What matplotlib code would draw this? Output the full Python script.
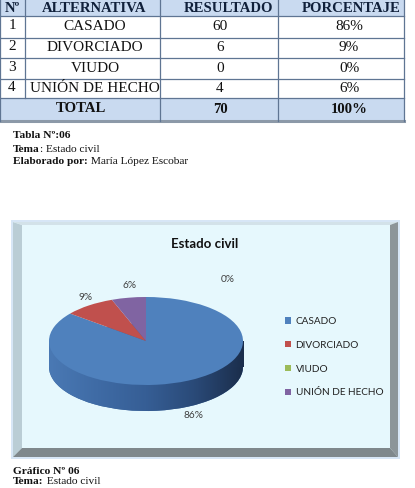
import numpy as np
import matplotlib
matplotlib.use("Agg")
import matplotlib.pyplot as plt
from matplotlib.patches import Rectangle, Polygon, Patch
from matplotlib.colors import LinearSegmentedColormap

# ---------------- data ----------------
categories = ["CASADO", "DIVORCIADO", "VIUDO", "UNIÓN DE HECHO"]
row_numbers = ["1", "2", "3", "4"]
resultado = [60, 6, 0, 4]
total_resultado = sum(resultado)
porcentaje = [round(100 * v / total_resultado) for v in resultado]
total_porcentaje = round(100 * total_resultado / total_resultado)
headers = ["Nº", "ALTERNATIVA", "RESULTADO", "PORCENTAJE"]
chart_title = "Estado civil"

# ---------------- style ----------------
W, H = 415, 488
fig = plt.figure(figsize=(W / 100, H / 100), dpi=100)
fig.patch.set_facecolor("white")
bg = fig.add_axes([0, 0, 1, 1])
bg.set_xlim(0, W)
bg.set_ylim(H, 0)
bg.axis("off")

serif = "Liberation Serif"
sans = "Lato"
pie_colors = ["#4F81BD", "#C0504D", "#9BBB59", "#8064A2"]

# ---------------- table ----------------
col_x = [0, 25, 160, 278, 404]
row_y = [-4, 16, 38, 58, 79, 98, 121]
head_bg = "#C9DAF0"
line_c = "#5F7593"
bg.add_patch(Rectangle((0, row_y[0]), col_x[-1], row_y[1] - row_y[0], color=head_bg, lw=0))
bg.add_patch(Rectangle((0, row_y[5]), col_x[-1], row_y[6] - row_y[5], color=head_bg, lw=0))
for y in row_y[1:6]:
    bg.plot([0, col_x[-1]], [y, y], color=line_c, lw=0.9)
bg.plot([0, col_x[-1]], [row_y[6], row_y[6]], color="#8C99A8", lw=2.2)
for x in col_x:
    ytop = row_y[0]
    ybot = row_y[5] if x == 25 else row_y[6]
    bg.plot([x, x], [ytop, ybot], color=line_c, lw=0.9)

head_cx = [12, 94, 228, 351]
body_cx = [12, 95, 220, 349]
head_cy = 8
for cx, h in zip(head_cx, headers):
    bg.text(cx, head_cy, h, family=serif, weight="bold", fontsize=10.6,
            ha="center", va="center", color="#10203A")
for i in range(len(categories)):
    cy = (row_y[i + 1] + row_y[i + 2]) / 2 - 0.5
    bg.text(body_cx[0], cy - 0.8, row_numbers[i], family=serif, fontsize=11, ha="center", va="center", color="#111")
    bg.text(body_cx[1], cy, categories[i], family=serif, fontsize=11, ha="center", va="center", color="#111")
    bg.text(body_cx[2], cy, str(resultado[i]), family=serif, fontsize=11, ha="center", va="center", color="#111")
    bg.text(body_cx[3], cy, f"{porcentaje[i]}%", family=serif, fontsize=11, ha="center", va="center", color="#111")
tcy = (row_y[5] + row_y[6]) / 2
bg.text(81, tcy - 1, "TOTAL", family=serif, weight="bold", fontsize=10.6, ha="center", va="center", color="#111")
bg.text(body_cx[2], tcy, str(total_resultado), family=serif, weight="bold", fontsize=10.6, ha="center", va="center", color="#111")
bg.text(body_cx[3], tcy, f"{total_porcentaje}%", family=serif, weight="bold", fontsize=10.6, ha="center", va="center", color="#111")

renderer = fig.canvas.get_renderer()


def mixed(x, y, bold, regular, size=8.2):
    t = bg.text(x, y, bold, family=serif, weight="bold", fontsize=size, ha="left", va="center", color="#111")
    w = t.get_window_extent(renderer).width
    if regular:
        bg.text(x + w, y, regular, family=serif, fontsize=size, ha="left", va="center", color="#111")


mixed(13, 135, "Tabla Nº:06", "")
mixed(13, 149, "Tema", ": Estado civil")
mixed(13, 162, "Elaborado por:", " María López Escobar")

# ---------------- chart frame ----------------
L, R, T, B = 13, 398, 222, 457
iL, iR, iT, iB = 22, 390, 225, 448
bg.add_patch(Rectangle((L - 2, T - 2), R - L + 4, B - T + 4, color="#D7E6F6", lw=0))
bg.add_patch(Rectangle((L, T), R - L, B - T, color="#E6F8FD", lw=0))
bg.add_patch(Polygon([(L, T), (iL, iT), (iL, iB), (L, B)], color="#BACDD5", lw=0))
bg.add_patch(Polygon([(L, T), (R, T), (iR, iT), (iL, iT)], color="#D3E2E9", lw=0))
bg.add_patch(Polygon([(R, T), (R, B), (iR, iB), (iR, iT)], color="#8C9599", lw=0))
bg.add_patch(Polygon([(L, B), (R, B), (iR, iB), (iL, iB)], color="#7F888C", lw=0))

bg.text(205, 244, chart_title, family=sans, weight="bold", fontsize=9.5, ha="center", va="center", color="#111")

# ---------------- 3D-like pie ----------------
cx, cy, rx, ry, depth = 146, 341, 97, 44, 26
d = depth / ry
pax = fig.add_axes([(cx - rx) / W, (H - (cy + ry + depth)) / H, 2 * rx / W, (2 * ry + depth) / H])
pax.axis("off")

side_w, _ = pax.pie(resultado, center=(0, -d), startangle=90, counterclock=False,
                    colors=["#3A659C"] * 4, wedgeprops=dict(lw=0))
side_rect = Rectangle((-1, -d), 2, d, color="#3A659C", lw=0)
pax.add_patch(side_rect)
cmap = LinearSegmentedColormap.from_list("side", ["#4A79B4", "#3F6BA5", "#365E95", "#2A4A78", "#1B2E4C"])
grad = np.linspace(0, 1, 256).reshape(1, -1)
for clip in [side_w[0], side_rect]:
    im = pax.imshow(grad, extent=(-1, 1, -1 - d, 0), aspect="auto", cmap=cmap, zorder=2)
    im.set_clip_path(clip)

top_w, _ = pax.pie(resultado, startangle=90, counterclock=False, colors=pie_colors,
                   wedgeprops=dict(lw=0, zorder=3))
for w in top_w:
    w.set_zorder(3)
pax.set_aspect("auto")
pax.set_xlim(-1, 1)
pax.set_ylim(-1 - d, 1)

# percentage labels (image pixel positions)
label_pos = {"CASADO": (193, 416), "DIVORCIADO": (86, 298), "VIUDO": (228, 279), "UNIÓN DE HECHO": (130, 286)}
for cat, p in zip(categories, porcentaje):
    x, y = label_pos[cat]
    bg.text(x, y, f"{p}%", family=sans, fontsize=7.3, ha="center", va="center", color="#404040", zorder=5)

# legend
handles = [Patch(facecolor=c, edgecolor="none") for c in pie_colors]
leg = bg.legend(handles, categories, loc="upper left", bbox_to_anchor=(285, 317),
                bbox_transform=bg.transData, frameon=False, prop=dict(family=sans, size=7.2),
                handlelength=0.6, handleheight=0.6, handletextpad=0.45, labelspacing=1.48,
                borderpad=0, borderaxespad=0)
for t in leg.get_texts():
    t.set_color("#222")

# ---------------- bottom caption ----------------
mixed(13, 471, "Gráfico Nº 06", "")
mixed(13, 482, "Tema:", " Estado civil")

fig.savefig("out.png", dpi=100)
